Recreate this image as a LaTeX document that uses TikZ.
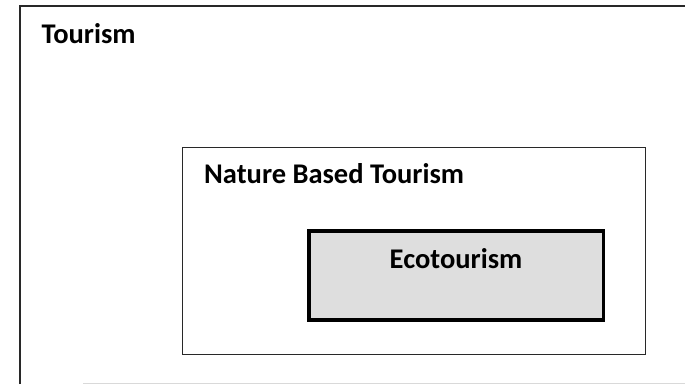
\documentclass[tikz,border=0pt]{standalone}
\usepackage{fontspec}
\setmainfont{Carlito}
\usepackage{tikz}
\usetikzlibrary{positioning}
\usepackage{xcolor}
\definecolor{framegray}{RGB}{40, 40, 40}
\definecolor{ecofill}{RGB}{222, 222, 222}

\tikzset{
  boxlabel/.style={anchor=base west, inner sep=0pt, font=\fontsize{28.5}{31}\selectfont\bfseries},
  areabox/.style={draw=framegray, line width=1.2pt, minimum width=463pt, minimum height=207pt, inner sep=0pt},
  ecobox/.style={draw=black, fill=ecofill, line width=3.5pt, minimum width=294.5pt, minimum height=89.2pt, inner sep=0pt}
}

\begin{document}
\begin{tikzpicture}[x=1pt, y=1pt]
    \useasboundingbox (0,0) rectangle (685,384);
    % Marco exterior (abierto a la derecha)
    \draw[framegray, line width=1.2pt] (20,0) -- (20,378) -- (685,378);
    \draw[gray!30, line width=1pt] (83,1) -- (685,1);
    \node[boxlabel] (tourism) at (41.5,341) {Tourism};
    % Caja intermedia y caja interior
    \node[areabox] (naturebox) at (414.2,132.75) {};
    \node[boxlabel] (nature) at (204,201) {Nature Based Tourism};
    \node[ecobox] (ecobox) at (456,108.65) {};
    \node[inner sep=0pt, anchor=base, font=\fontsize{28.5}{31}\selectfont\bfseries] (eco) at (456,116) {Ecotourism};
\end{tikzpicture}
\end{document}
